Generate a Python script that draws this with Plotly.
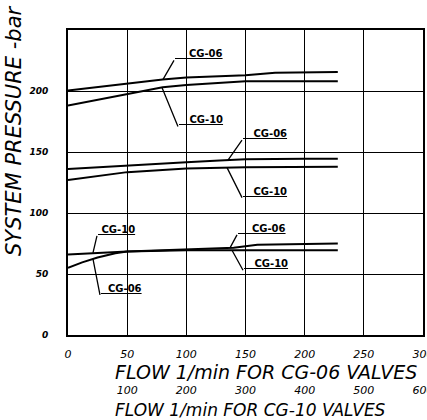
import numpy as np
import plotly.graph_objects as go

# ---- data (flow in l/min on CG-06 scale, pressure in bar) ----
flow_top_06 = [0, 25, 50, 80, 100, 150, 175, 200, 228]
p_top_06 = [200.5, 203.5, 206, 209.5, 211, 213, 215, 215.5, 215.5]
flow_top_10 = [0, 25, 50, 80, 100, 128, 150, 200, 228]
p_top_10 = [188, 192.5, 197, 203, 205, 207, 208, 208, 208]

flow_mid_06 = [0, 25, 50, 100, 128, 150, 200, 228]
p_mid_06 = [136, 137.5, 139, 141.5, 143, 144, 144.5, 144.5]
flow_mid_10 = [0, 25, 50, 100, 150, 228]
p_mid_10 = [127, 130.5, 133.5, 136.5, 137.5, 138]

flow_low_06 = [0, 12, 25, 40, 50, 100, 140, 160, 228]
p_low_06 = [55, 59.5, 63.5, 67, 68.5, 70, 71.5, 74, 75]
flow_low_10 = [0, 25, 50, 100, 150, 228]
p_low_10 = [66, 67.5, 68.5, 69.5, 69.5, 69.5]

x_ticks_06 = [0, 50, 100, 150, 200, 250, 300]
x_ticks_10 = [100, 200, 300, 400, 500, 600]
y_ticks = [0, 50, 100, 150, 200]

curves = [
    (flow_top_06, p_top_06), (flow_top_10, p_top_10),
    (flow_mid_06, p_mid_06), (flow_mid_10, p_mid_10),
    (flow_low_06, p_low_06), (flow_low_10, p_low_10),
]

fig = go.Figure()
for fx, py in curves:
    fig.add_trace(go.Scatter(x=fx, y=py, mode="lines",
                             line=dict(color="black", width=2),
                             showlegend=False, hoverinfo="skip"))
# invisible trace for second x axis (CG-10 flow scale)
fig.add_trace(go.Scatter(x=[0, 600], y=[None, None], xaxis="x2",
                         mode="lines", showlegend=False, hoverinfo="skip"))

NB = "\u00a0"
lab_font = dict(family="DejaVu Sans", size=10, color="black", weight="bold")
# (curve, flow at leader head, label, ax, ay, padding)
labels = [
    (flow_top_06, p_top_06, 80.3, "CG-06", 11, -19, 4),
    (flow_top_10, p_top_10, 79.4, "CG-10", 16, 39, 3),
    (flow_mid_06, p_mid_06, 135.2, "CG-06", 14, -20, 3),
    (flow_mid_10, p_mid_10, 134.4, "CG-10", 15, 30, 3),
    (flow_low_10, p_low_10, 21.1, "CG-10", 4, -17, 1),
    (flow_low_06, p_low_06, 21.1, "CG-06", 7, 36, 2),
    (flow_low_06, p_low_06, 136.9, "CG-06", 7, -13, 4),
    (flow_low_10, p_low_10, 138.6, "CG-10", 11, 20, 3),
]
for fx, py, xh, txt, ax, ay, pad in labels:
    yh = float(np.interp(xh, fx, py))
    fig.add_annotation(x=xh, y=yh, xref="x", yref="y",
                       text="<u>" + NB * pad + txt + "</u>",
                       showarrow=True, arrowhead=0, arrowwidth=1.3,
                       arrowcolor="black", ax=ax, ay=ay,
                       xanchor="left", yanchor="bottom", borderpad=0,
                       font=lab_font)

fig.add_annotation(xref="paper", yref="paper", x=0.127, y=-0.122,
                   text="FLOW 1/min FOR CG-06 VALVES", showarrow=False,
                   xanchor="left", yanchor="middle",
                   font=dict(family="DejaVu Sans", size=19, color="black", style="italic"))
fig.add_annotation(xref="paper", yref="paper", x=0.127, y=-0.246,
                   text="FLOW 1/min FOR CG-10 VALVES", showarrow=False,
                   xanchor="left", yanchor="middle",
                   font=dict(family="DejaVu Sans", size=17, color="black", style="italic"))
fig.add_annotation(xref="paper", yref="paper", x=-0.152, y=0.669,
                   text="SYSTEM PRESSURE -bar", showarrow=False, textangle=-90,
                   xanchor="center", yanchor="middle",
                   font=dict(family="DejaVu Sans", size=21, color="black", style="italic"))

tick_font = dict(family="DejaVu Sans", size=11, color="black", style="italic")
fig.update_layout(
    width=427, height=420,
    margin=dict(l=68, r=4, t=30, b=85, autoexpand=False),
    paper_bgcolor="white", plot_bgcolor="white",
    xaxis=dict(range=[0, 300], tickvals=x_ticks_06, showgrid=True,
               gridcolor="black", gridwidth=1, zeroline=False,
               showline=True, linecolor="black", linewidth=2, mirror=True,
               ticks="", ticklabelstandoff=8, tickfont=tick_font,
               ticklabeloverflow="allow", automargin=False),
    xaxis2=dict(range=[0, 600], tickvals=x_ticks_10, overlaying="x",
                side="bottom", anchor="y", showgrid=False, zeroline=False,
                showline=False, ticks="", ticklabelstandoff=47,
                tickfont=tick_font, ticklabeloverflow="allow",
                automargin=False),
    yaxis=dict(range=[0, 250], tickvals=y_ticks, showgrid=True,
               gridcolor="black", gridwidth=1, zeroline=False,
               showline=True, linecolor="black", linewidth=2, mirror=True,
               ticks="", ticklabelstandoff=16, automargin=False,
               tickfont=dict(family="DejaVu Sans", size=9, color="black",
                             style="italic", weight="bold")),
)

fig.write_html("out.html", config={"displayModeBar": False},
               post_script="document.body.style.margin='0';"
                           "document.body.style.overflow='hidden';")
